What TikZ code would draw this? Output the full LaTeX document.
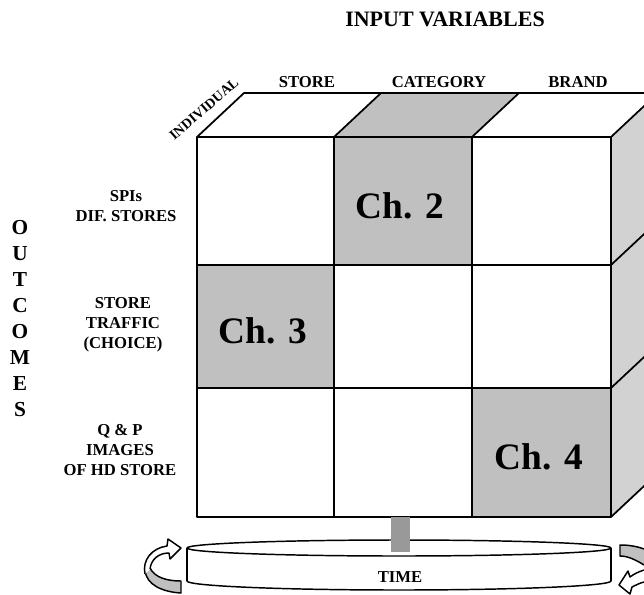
\documentclass[tikz,border=0pt]{standalone}
\usepackage{fontspec}
\setmainfont{Liberation Serif}
\definecolor{cellgray}{RGB}{192,192,192}
\definecolor{sidegray}{RGB}{210,210,210}
\definecolor{stemgray}{RGB}{153,153,153}
\begin{document}
\begin{tikzpicture}[x=0.75pt, y=-0.75pt, line join=round,
  edge/.style={line width=1.3pt},
  rim/.style={line width=1.1pt},
  rowlabel/.style={font=\fontsize{12.5}{15}\selectfont\bfseries, align=center},
  collabel/.style={font=\fontsize{12.5}{14}\selectfont\bfseries},
  chapter/.style={font=\fontsize{28}{30}\selectfont\bfseries}]
\clip (0,0) rectangle (644,594);
% Set the cube depth
\def\depthx{47}
\def\depthy{-44}

% Turntable under the cube
\draw[rim, fill=white] (399,581) ellipse [x radius=159pt, y radius=6.75pt];
\fill[white] (187,548) rectangle (611,581);
\draw[rim] (187,548) -- (187,581);
\draw[rim] (611,548) -- (611,581);
\draw[rim, fill=white] (399,548) ellipse [x radius=159pt, y radius=6pt];
\node[collabel] (time) at (400,577) {TIME};

% Turning arrows
\draw[rim, fill=cellgray] (150,568) .. controls (155,578) and (168,581) .. (181,581) -- (181,593) .. controls (163,592) and (146,585) .. (145,570) -- cycle;
\draw[rim, fill=white] (145,574) .. controls (142,560) and (152,548) .. (167,546) -- (168,539) -- (181,548) -- (170,559) -- (169,553) .. controls (158,553) and (151,560) .. (150,569);
\draw[rim, fill=cellgray] (644,549) .. controls (636,546) and (628,545) .. (620,545) -- (620,556) .. controls (628,556) and (636,560) .. (644,565);
\draw[rim, fill=white] (644,570) .. controls (638,572) and (634,574) .. (630,577) -- (628,571) -- (619,585) -- (630,594) -- (632,587) .. controls (636,585) and (640,583) .. (644,582);

% Faces of the cube
\fill[cellgray] (334,137) -- +(\depthx,\depthy) -- (519,93) -- (472,137) -- cycle;
\fill[sidegray] (611,137) -- +(\depthx,\depthy) -- (658,473) -- (611,517) -- cycle;

% Draw the grid and insert the chapters
\draw[edge] (197,137) rectangle (334,265);
\draw[edge, fill=cellgray] (334,137) rectangle (472,265);
\node[chapter] (chTwo) at (400,206) {Ch. 2};
\draw[edge] (472,137) rectangle (611,265);
\draw[edge, fill=cellgray] (197,265) rectangle (334,388);
\node[chapter] (chThree) at (263,331) {Ch. 3};
\draw[edge] (334,265) rectangle (472,388);
\draw[edge] (472,265) rectangle (611,388);
\draw[edge] (197,388) rectangle (334,517);
\draw[edge] (334,388) rectangle (472,517);
\draw[edge, fill=cellgray] (472,388) rectangle (611,517);
\node[chapter] (chFour) at (539,457) {Ch. 4};

% Receding edges
\draw[edge] (197,137) -- +(\depthx,\depthy) -- (658,93);
\foreach \x in {334,472,611}
  \draw[edge] (\x,137) -- +(\depthx,\depthy);
\foreach \y in {265,388,517}
  \draw[edge] (611,\y) -- +(\depthx,\depthy);

% Stem of the turntable
\fill[stemgray] (391,517) rectangle (410,552);

% Labels
\node[font=\fontsize{16.5}{18}\selectfont\bfseries] (title) at (445,19) {INPUT VARIABLES};
\node[collabel] (colStore) at (307,82) {STORE};
\node[collabel] (colCategory) at (439,82) {CATEGORY};
\node[collabel] (colBrand) at (578,82) {BRAND};
\node[rotate=41, inner sep=0pt, font=\fontsize{10.5}{11}\selectfont\bfseries] (individual) at (204,109) {INDIVIDUAL};
\node[rowlabel] (rowSpis) at (126,206) {SPIs\\DIF. STORES};
\node[rowlabel] (rowTraffic) at (123,325) {STORE\\TRAFFIC\\(CHOICE)};
\node[rowlabel] (rowImages) at (120,450) {Q \& P\\IMAGES\\OF HD STORE};
\node[font=\fontsize{16}{19.5}\selectfont\bfseries, align=center] (outcomes) at (20,319) {O\\U\\T\\C\\O\\M\\E\\S};
\end{tikzpicture}
\end{document}
